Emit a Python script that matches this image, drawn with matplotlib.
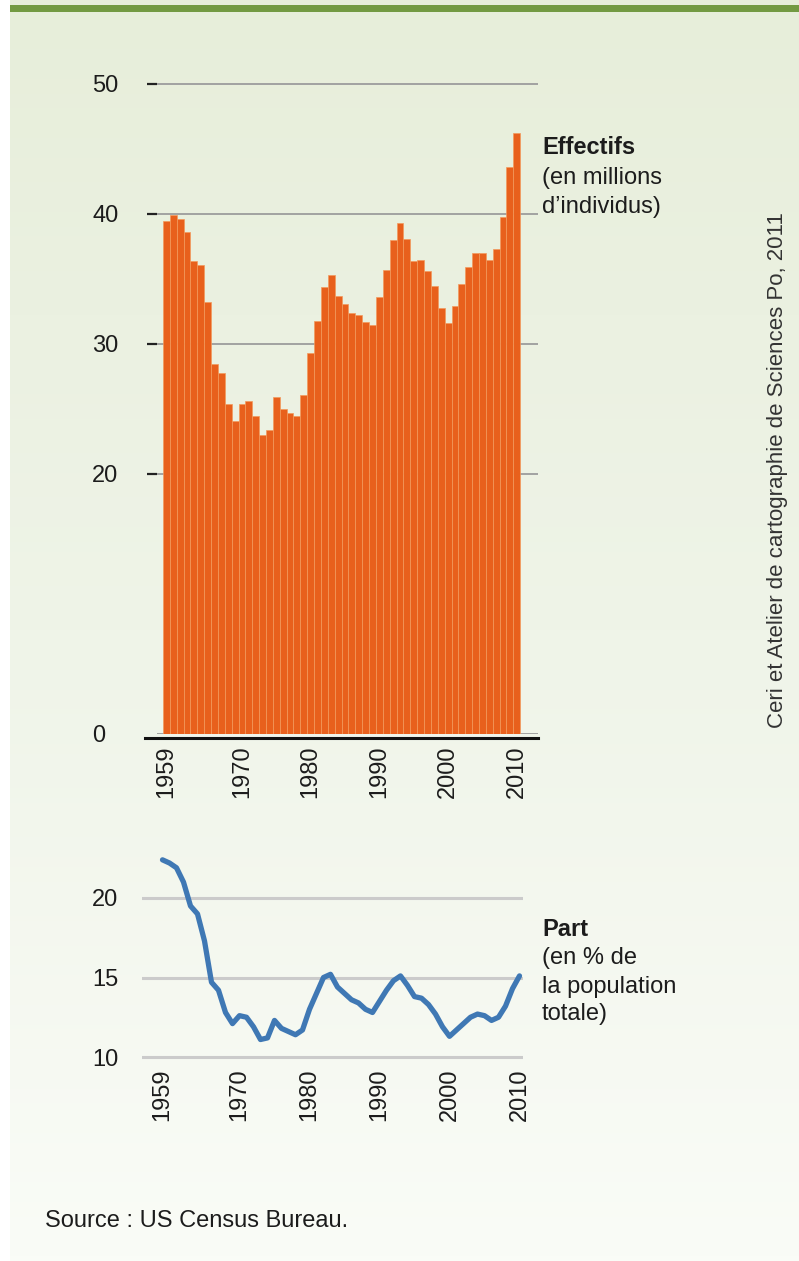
import numpy as np
import matplotlib
matplotlib.use('Agg')
import matplotlib.pyplot as plt
from matplotlib.lines import Line2D
from matplotlib.patches import Rectangle
from matplotlib.colors import LinearSegmentedColormap

plt.rcParams['font.family'] = ['Liberation Sans', 'DejaVu Sans']

# ---- data (US Census Bureau) ----
years = list(range(1959, 2011))
effectifs = [39.5, 39.9, 39.6, 38.6, 36.4, 36.1, 33.2, 28.5, 27.8, 25.4,
             24.1, 25.4, 25.6, 24.5, 23.0, 23.4, 25.9, 25.0, 24.7, 24.5,
             26.1, 29.3, 31.8, 34.4, 35.3, 33.7, 33.1, 32.4, 32.2, 31.7,
             31.5, 33.6, 35.7, 38.0, 39.3, 38.1, 36.4, 36.5, 35.6, 34.5,
             32.8, 31.6, 32.9, 34.6, 35.9, 37.0, 37.0, 36.5, 37.3, 39.8,
             43.6, 46.2]
part = [22.4, 22.2, 21.9, 21.0, 19.5, 19.0, 17.3, 14.7, 14.2, 12.8,
        12.1, 12.6, 12.5, 11.9, 11.1, 11.2, 12.3, 11.8, 11.6, 11.4,
        11.7, 13.0, 14.0, 15.0, 15.2, 14.4, 14.0, 13.6, 13.4, 13.0,
        12.8, 13.5, 14.2, 14.8, 15.1, 14.5, 13.8, 13.7, 13.3, 12.7,
        11.9, 11.3, 11.7, 12.1, 12.5, 12.7, 12.6, 12.3, 12.5, 13.2,
        14.3, 15.1]
year_ticks = [1959, 1970, 1980, 1990, 2000, 2010]
top_yticks = [0, 20, 30, 40, 50]
bot_yticks = [10, 15, 20]

W, H = 799, 1261
def fx(px):
    return px / W
def fy(py):
    return 1 - py / H

TXT = '#1c1c1c'
fig = plt.figure(figsize=(W / 100, H / 100), dpi=100, facecolor='white')

# background gradient
bg = fig.add_axes([fx(10), 0, 1 - fx(10), 1], zorder=-10)
cmap = LinearSegmentedColormap.from_list('bg', ['#e7eeda', '#eff4e8', '#fafcf7'])
bg.imshow(np.linspace(0, 1, 256).reshape(-1, 1), aspect='auto', cmap=cmap,
          extent=[0, 1, 0, 1])
bg.axis('off')
fig.add_artist(Rectangle((fx(10), fy(12)), 1 - fx(10), 7 / H,
                         transform=fig.transFigure, color='#739a42', lw=0))

# ---- top chart: bars ----
unit1 = 13.0
y0_1 = 734
ytop1 = 51
ax1 = fig.add_axes([fx(157), fy(y0_1), (538 - 157) / W, ytop1 * unit1 / H])
ax1.patch.set_alpha(0)
ax1.bar(years, effectifs, width=1.0, color='#E8601C', edgecolor='#F39A5C',
        linewidth=0.5, zorder=2)
ppy = 6.87
ax1.set_xlim(1959 - (166.4 - 157) / ppy, 1959 + (538 - 166.4) / ppy)
ax1.set_ylim(0, ytop1)
ax1.set_axisbelow(True)
ax1.grid(axis='y', color='#9c9c9c', linewidth=1.3)
ax1.grid(axis='x', visible=False)
for s in ax1.spines.values():
    s.set_visible(False)
ax1.set_yticks(top_yticks)
ax1.set_yticklabels([str(v) for v in top_yticks])
ax1.tick_params(axis='y', direction='out', length=7.2, width=1.6,
                color='#222222', labelsize=17, labelcolor=TXT,
                pad=(157 - 10 - 92) / 1.389)
for lbl in ax1.get_yticklabels():
    lbl.set_horizontalalignment('left')
ax1.yaxis.get_major_ticks()[0].tick1line.set_visible(False)
ax1.set_xticks(year_ticks)
ax1.set_xticklabels([str(y) for y in year_ticks], rotation=90)
ax1.tick_params(axis='x', length=0, labelsize=17, labelcolor=TXT, pad=8)

fig.add_artist(Line2D([fx(145), fx(538)], [fy(738), fy(738)],
                      color='#111111', lw=2.2))

# ---- bottom chart: line ----
unit2 = 15.9
ylo2, yhi2 = 9.7, 23.2
px10 = 1057
bot_px = px10 + (10 - ylo2) * unit2
ax2 = fig.add_axes([fx(142), fy(bot_px), (523 - 142) / W, (yhi2 - ylo2) * unit2 / H])
ax2.patch.set_alpha(0)
ppy2 = 7.0
ax2.plot(years, part, color='#3f78b4', lw=3.8, solid_capstyle='round',
         solid_joinstyle='round', clip_on=False, zorder=3)
ax2.set_xlim(1959 - (162.5 - 142) / ppy2, 1959 + (523 - 162.5) / ppy2)
ax2.set_ylim(ylo2, yhi2)
ax2.set_axisbelow(True)
ax2.grid(axis='y', color='#cbcbcb', linewidth=2.2)
ax2.grid(axis='x', visible=False)
for s in ax2.spines.values():
    s.set_visible(False)
ax2.set_yticks(bot_yticks)
ax2.set_yticklabels([str(v) for v in bot_yticks])
ax2.tick_params(axis='y', length=0, labelsize=17, labelcolor=TXT,
                pad=(142 - 92) / 1.389)
for lbl in ax2.get_yticklabels():
    lbl.set_horizontalalignment('left')
ax2.set_xticks(year_ticks)
ax2.set_xticklabels([str(y) for y in year_ticks], rotation=90)
ax2.tick_params(axis='x', length=0, labelsize=17, labelcolor=TXT, pad=5)

# ---- annotations ----
fig.text(fx(542), fy(148), 'Effectifs', fontsize=17, weight='bold',
         va='center', color=TXT)
fig.text(fx(542), fy(178), '(en millions', fontsize=17, va='center', color=TXT)
fig.text(fx(542), fy(207), 'd\u2019individus)', fontsize=17, va='center', color=TXT)

fig.text(fx(542), fy(930), 'Part', fontsize=17, weight='bold',
         va='center', color=TXT)
fig.text(fx(542), fy(958), '(en % de', fontsize=17, va='center', color=TXT)
fig.text(fx(542), fy(987), 'la population', fontsize=17, va='center', color=TXT)
fig.text(fx(542), fy(1014), 'totale)', fontsize=17, va='center', color=TXT)

fig.text(fx(778), fy(470), 'Ceri et Atelier de cartographie de Sciences Po, 2011',
         rotation=90, ha='center', va='center', fontsize=16, color='#333333')

fig.text(fx(45), fy(1221), 'Source : US Census Bureau.', fontsize=17,
         va='center', color=TXT)

fig.savefig('out.png', dpi=100)
